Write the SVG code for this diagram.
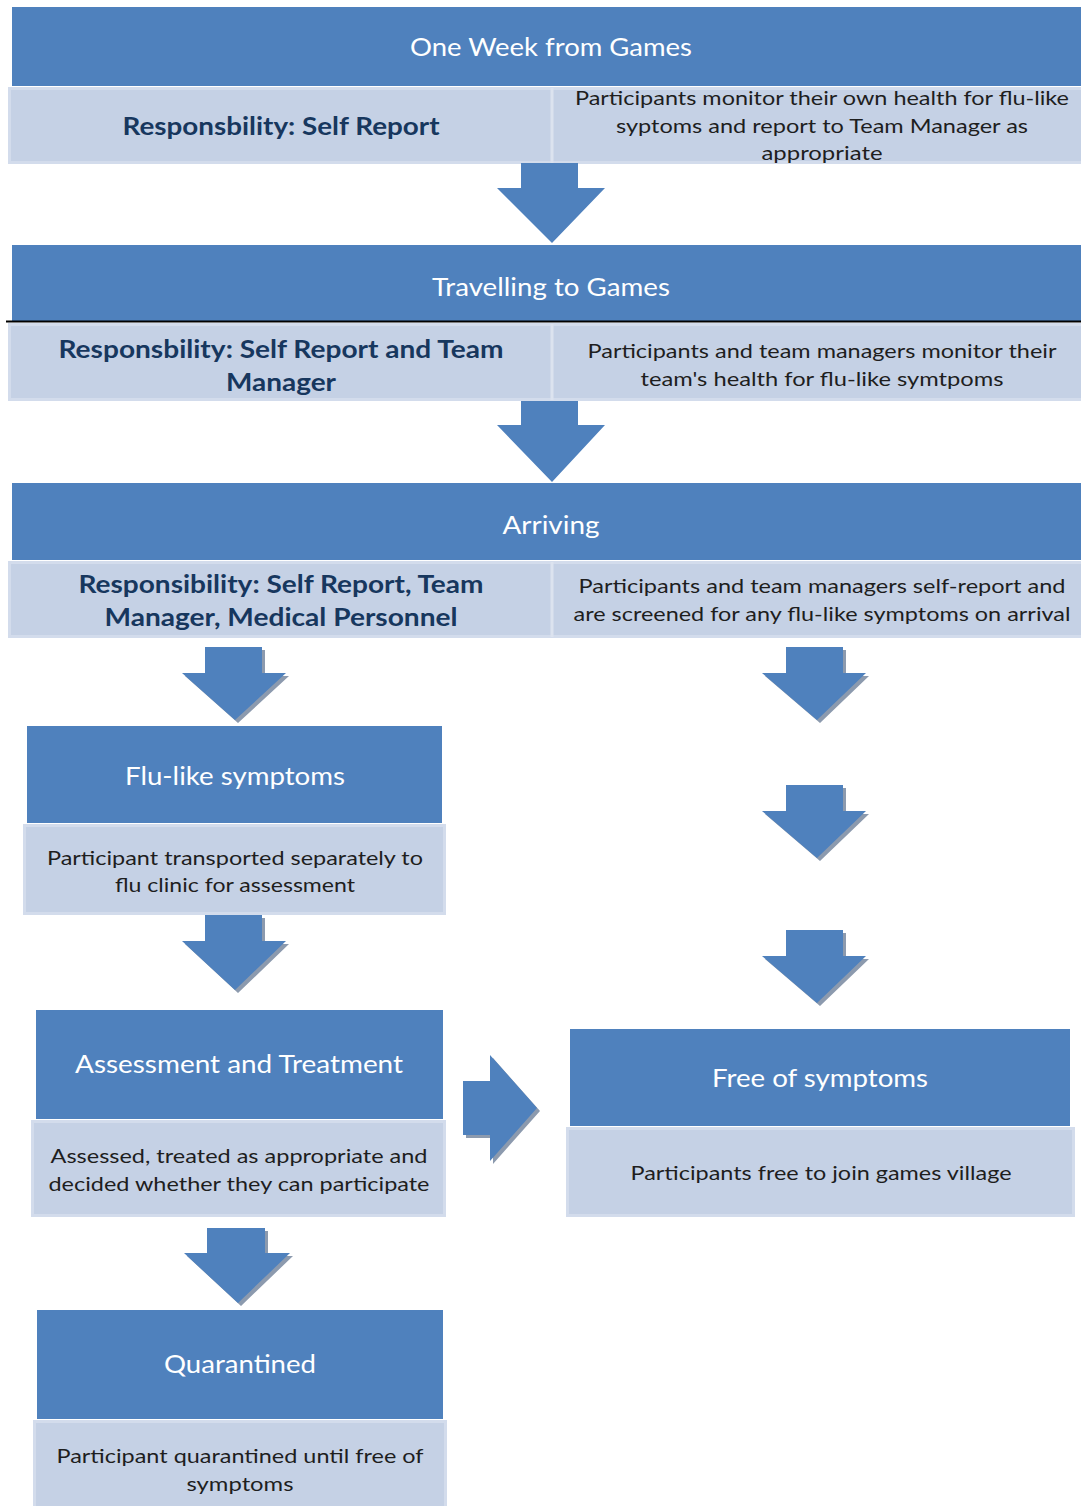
<svg xmlns="http://www.w3.org/2000/svg" width="1081" height="1506" viewBox="0 0 1081 1506">
<style>
.dk{fill:#4F81BD}
.lt{fill:#C5D1E5;stroke:#D3DCEC;stroke-width:3}
.dv{stroke:#DCE3EF;stroke-width:3}
.h{font-family:Lato,"Open Sans",sans-serif;font-size:25px;fill:#FFFFFF;text-anchor:middle;dominant-baseline:central}
.r{font-family:Lato,"Open Sans",sans-serif;font-size:25px;font-weight:bold;fill:#17375E;text-anchor:middle;dominant-baseline:central}
.b{font-family:Lato,"Open Sans",sans-serif;font-size:20px;fill:#1E1E1E;text-anchor:middle;dominant-baseline:central}
.ar{fill:#4F81BD}
.sh{fill:#8C9AAE}
</style>
<rect width="1081" height="1506" fill="#FFFFFF"/>

<g id="stage1">
<rect class="dk" x="12" y="7" width="1069" height="79"/>
<text class="h" x="551" y="46" textLength="282" lengthAdjust="spacingAndGlyphs">One Week from Games</text>
<rect class="lt" x="9.5" y="88.5" width="1073" height="74"/>
<line class="dv" x1="552" y1="88" x2="552" y2="163"/>
<text class="r" x="281" y="125" textLength="317" lengthAdjust="spacingAndGlyphs">Responsbility: Self Report</text>
<text class="b" x="822" y="97" textLength="494" lengthAdjust="spacingAndGlyphs">Participants monitor their own health for flu-like</text>
<text class="b" x="822" y="125" textLength="412" lengthAdjust="spacingAndGlyphs">syptoms and report to Team Manager as</text>
<text class="b" x="822" y="152" textLength="121" lengthAdjust="spacingAndGlyphs">appropriate</text>
</g>

<g id="stage2">
<rect class="dk" x="12" y="245" width="1069" height="77"/>
<text class="h" x="551" y="286" textLength="238" lengthAdjust="spacingAndGlyphs">Travelling to Games</text>
<line x1="6" y1="321.5" x2="1081" y2="321.5" stroke="#000000" stroke-width="2"/>
<rect class="lt" x="9.5" y="324.5" width="1073" height="75"/>
<line class="dv" x1="552" y1="324" x2="552" y2="400"/>
<text class="r" x="281" y="348" textLength="445" lengthAdjust="spacingAndGlyphs">Responsbility: Self Report and Team</text>
<text class="r" x="281" y="381" textLength="110" lengthAdjust="spacingAndGlyphs">Manager</text>
<text class="b" x="822" y="350" textLength="469" lengthAdjust="spacingAndGlyphs">Participants and team managers monitor their</text>
<text class="b" x="822" y="378" textLength="363" lengthAdjust="spacingAndGlyphs">team's health for flu-like symtpoms</text>
</g>

<g id="stage3">
<rect class="dk" x="12" y="483" width="1069" height="77"/>
<text class="h" x="551" y="524" textLength="97" lengthAdjust="spacingAndGlyphs">Arriving</text>
<rect class="lt" x="9.5" y="562.5" width="1073" height="74"/>
<line class="dv" x1="552" y1="562" x2="552" y2="637"/>
<text class="r" x="281" y="583" textLength="405" lengthAdjust="spacingAndGlyphs">Responsibility: Self Report, Team</text>
<text class="r" x="281" y="616" textLength="353" lengthAdjust="spacingAndGlyphs">Manager, Medical Personnel</text>
<text class="b" x="822" y="585" textLength="487" lengthAdjust="spacingAndGlyphs">Participants and team managers self-report and</text>
<text class="b" x="822" y="613" textLength="497" lengthAdjust="spacingAndGlyphs">are screened for any flu-like symptoms on arrival</text>
</g>

<g id="flu">
<rect class="dk" x="27" y="726" width="415" height="97"/>
<text class="h" x="235" y="775" textLength="220" lengthAdjust="spacingAndGlyphs">Flu-like symptoms</text>
<rect class="lt" x="24.5" y="825.5" width="420" height="88"/>
<text class="b" x="235" y="857" textLength="376" lengthAdjust="spacingAndGlyphs">Participant transported separately to</text>
<text class="b" x="235" y="884" textLength="240" lengthAdjust="spacingAndGlyphs">flu clinic for assessment</text>
</g>

<g id="assess">
<rect class="dk" x="36" y="1010" width="407" height="109"/>
<text class="h" x="239" y="1063" textLength="328" lengthAdjust="spacingAndGlyphs">Assessment and Treatment</text>
<rect class="lt" x="32.5" y="1121.5" width="412" height="94"/>
<text class="b" x="239" y="1155" textLength="377" lengthAdjust="spacingAndGlyphs">Assessed, treated as appropriate and</text>
<text class="b" x="239" y="1183" textLength="381" lengthAdjust="spacingAndGlyphs">decided whether they can participate</text>
</g>

<g id="free">
<rect class="dk" x="570" y="1029" width="500" height="97"/>
<text class="h" x="820" y="1077" textLength="216" lengthAdjust="spacingAndGlyphs">Free of symptoms</text>
<rect class="lt" x="567.5" y="1128.5" width="506" height="87"/>
<text class="b" x="821" y="1172" textLength="381" lengthAdjust="spacingAndGlyphs">Participants free to join games village</text>
</g>

<g id="quarantine">
<rect class="dk" x="37" y="1310" width="406" height="109"/>
<text class="h" x="240" y="1363" textLength="152" lengthAdjust="spacingAndGlyphs">Quarantined</text>
<rect class="lt" x="34.5" y="1421.5" width="411" height="90"/>
<text class="b" x="240" y="1455" textLength="367" lengthAdjust="spacingAndGlyphs">Participant quarantined until free of</text>
<text class="b" x="240" y="1483" textLength="107" lengthAdjust="spacingAndGlyphs">symptoms</text>
</g>

<g id="connectors">
<polygon class="ar" points="521,163 578,163 578,188 605,188 552,243 497,188 521,188"/>
<polygon class="ar" points="521,401 578,401 578,425 605,425 552,482 497,425 521,425"/>
<g transform="translate(3,3)">
<polygon class="sh" points="205,647 262,647 262,673 286,673 235,720 182,673 205,673"/>
<polygon class="sh" points="786,647 843,647 843,673 866,673 817,720 762,673 786,673"/>
<polygon class="sh" points="786,785 843,785 843,811 866,811 817,858 762,811 786,811"/>
<polygon class="sh" points="786,930 843,930 843,956 866,956 817,1003 762,956 786,956"/>
<polygon class="sh" points="205,915 262,915 262,941 286,941 235,990 182,941 205,941"/>
<polygon class="sh" points="207,1228 265,1228 265,1253 290,1253 238,1303 184,1253 207,1253"/>
<polygon class="sh" points="463,1081 490,1081 490,1055 537,1108 490,1161 490,1135 463,1135"/>
</g>
<polygon class="ar" points="205,647 262,647 262,673 286,673 235,720 182,673 205,673"/>
<polygon class="ar" points="786,647 843,647 843,673 866,673 817,720 762,673 786,673"/>
<polygon class="ar" points="786,785 843,785 843,811 866,811 817,858 762,811 786,811"/>
<polygon class="ar" points="786,930 843,930 843,956 866,956 817,1003 762,956 786,956"/>
<polygon class="ar" points="205,915 262,915 262,941 286,941 235,990 182,941 205,941"/>
<polygon class="ar" points="207,1228 265,1228 265,1253 290,1253 238,1303 184,1253 207,1253"/>
<polygon class="ar" points="463,1081 490,1081 490,1055 537,1108 490,1161 490,1135 463,1135"/>
</g>
</svg>
